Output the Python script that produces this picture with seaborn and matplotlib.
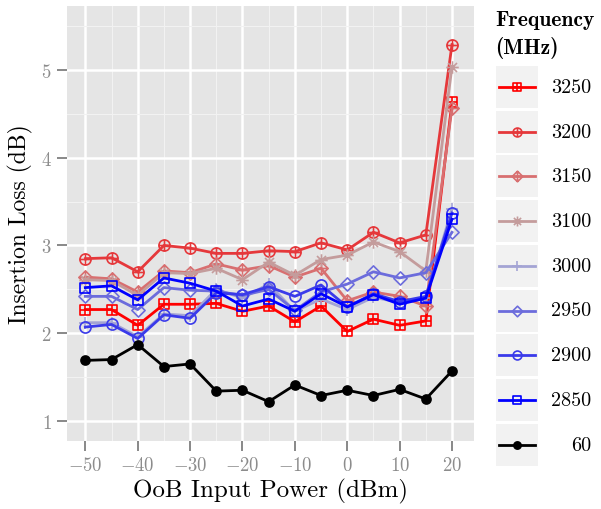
import numpy as np
import pandas as pd
import seaborn as sns
import matplotlib.pyplot as plt
from matplotlib.path import Path
from matplotlib.patches import Rectangle

# Data
power = [-50, -45, -40, -35, -30, -25, -20, -15, -10, -5, 0, 5, 10, 15, 20]
freqs = ['3250', '3200', '3150', '3100', '3000', '2950', '2900', '2850', '60']

loss_3250 = [2.27, 2.27, 2.09, 2.33, 2.33, 2.34, 2.25, 2.31, 2.13, 2.31, 2.02, 2.16, 2.09, 2.14, 4.63]
loss_3200 = [2.85, 2.86, 2.70, 3.00, 2.97, 2.91, 2.91, 2.94, 2.93, 3.03, 2.95, 3.15, 3.03, 3.12, 5.29]
loss_3150 = [2.64, 2.62, 2.47, 2.71, 2.69, 2.79, 2.72, 2.77, 2.64, 2.74, 2.37, 2.47, 2.42, 2.31, 4.57]
loss_3100 = [2.61, 2.60, 2.43, 2.69, 2.68, 2.74, 2.61, 2.81, 2.66, 2.84, 2.89, 3.04, 2.93, 2.71, 5.04]
loss_3000 = [2.12, 2.12, 1.96, 2.22, 2.20, 2.50, 2.40, 2.56, 2.25, 2.39, 2.27, 2.41, 2.35, 2.40, 3.42]
loss_2950 = [2.42, 2.42, 2.27, 2.52, 2.49, 2.48, 2.43, 2.50, 2.26, 2.47, 2.56, 2.70, 2.63, 2.69, 3.15]
loss_2900 = [2.07, 2.10, 1.94, 2.21, 2.17, 2.46, 2.44, 2.53, 2.42, 2.55, 2.30, 2.45, 2.36, 2.42, 3.37]
loss_2850 = [2.52, 2.54, 2.38, 2.63, 2.57, 2.48, 2.31, 2.39, 2.25, 2.45, 2.30, 2.44, 2.33, 2.40, 3.30]
loss_60 = [1.69, 1.70, 1.87, 1.62, 1.65, 1.34, 1.35, 1.22, 1.41, 1.29, 1.35, 1.29, 1.36, 1.25, 1.57]

colors = ['#ff0000', '#e5383b', '#d86f70', '#c49c9c', '#a4a4d4',
          '#6c6cdc', '#3a3aea', '#0000ff', '#000000']

series = [loss_3250, loss_3200, loss_3150, loss_3100, loss_3000,
          loss_2950, loss_2900, loss_2850, loss_60]

df = pd.concat([pd.DataFrame({'power': power, 'loss': s, 'freq': f})
                for f, s in zip(freqs, series)], ignore_index=True)

# ggplot-like marker shapes
M, L, C = Path.MOVETO, Path.LINETO, Path.CLOSEPOLY
plus = Path([(0, -1), (0, 1), (-1, 0), (1, 0)], [M, L, M, L])
square = Path([(-1, -1), (1, -1), (1, 1), (-1, 1), (-1, -1)], [M, L, L, L, C])
diamond = Path([(0, -1), (1, 0), (0, 1), (-1, 0), (0, -1)], [M, L, L, L, C])
circle = Path.unit_circle()
d = 0.72
cross = Path([(-d, -d), (d, d), (-d, d), (d, -d)], [M, L, M, L])
marker_list = [
    Path.make_compound_path(square, plus),
    Path.make_compound_path(circle, plus),
    Path.make_compound_path(diamond, plus),
    Path.make_compound_path(plus, cross),
    plus,
    diamond,
    circle,
    square,
    'o',
]
sizes = [7.5, 8, 9.5, 9, 9, 9.5, 8, 7.5, 6.5]
markers = dict(zip(freqs, marker_list))
palette = dict(zip(freqs, colors))

plt.rcParams['font.family'] = 'cmr10'
plt.rcParams['mathtext.fontset'] = 'cm'
plt.rcParams['axes.formatter.use_mathtext'] = True

fig = plt.figure(figsize=(6.01, 5.10), dpi=100)
ax = fig.add_axes([67 / 601, 1 - 441.7 / 510, (474 - 67) / 601, (441.7 - 6.7) / 510])

sns.lineplot(data=df, x='power', y='loss', hue='freq', style='freq',
             hue_order=freqs, style_order=freqs, palette=palette,
             markers=markers, dashes=False, errorbar=None, legend=False,
             linewidth=2, ax=ax)

for f, line, ms in zip(freqs, ax.lines, sizes):
    c = line.get_color()
    line.set_markeredgecolor(c)
    line.set_markerfacecolor(c if f == '60' else 'none')
    line.set_markersize(ms)
    line.set_markeredgewidth(1.2)

ax.set_facecolor('#e5e5e5')
ax.set_xlim(-53.5, 24.2)
ax.set_ylim(0.775, 5.733)
ax.set_xticks([-50, -40, -30, -20, -10, 0, 10, 20])
ax.set_xticks([-45, -35, -25, -15, -5, 5, 15], minor=True)
ax.set_yticks([1, 2, 3, 4, 5])
ax.set_yticks([1.5, 2.5, 3.5, 4.5, 5.5], minor=True)
ax.grid(which='major', color='white', linewidth=1.8)
ax.grid(which='minor', color='#f2f2f2', linewidth=0.8)
ax.set_axisbelow(True)
for sp in ax.spines.values():
    sp.set_visible(False)
ax.tick_params(which='major', length=7, width=1.3, color='#7f7f7f',
               labelcolor='#8c8c8c', labelsize=13.5, pad=4)
ax.tick_params(which='minor', length=0)
ax.set_xlabel('OoB Input Power (dBm)', fontsize=18, labelpad=3)
ax.set_ylabel('Insertion Loss (dB)', fontsize=17, labelpad=6)

# ggplot-style legend drawn in pixel coordinates
lax = fig.add_axes([0, 0, 1, 1])
lax.set_xlim(0, 601)
lax.set_ylim(510, 0)
lax.axis('off')
lax.text(495, 21, 'Frequency', fontfamily='cmb10', fontsize=15.5, va='center', ha='left')
lax.text(495, 48, '(MHz)', fontfamily='cmb10', fontsize=15.5, va='center', ha='left')
for i, (f, c, m, ms) in enumerate(zip(freqs, colors, marker_list, sizes)):
    yc = 88 + i * 44.7
    lax.add_patch(Rectangle((496, yc - 21), 42, 42, facecolor='#f2f2f2', edgecolor='none'))
    lax.plot([499, 535], [yc, yc], color=c, linewidth=2)
    lax.plot([517], [yc], marker=m, markersize=ms * 0.8, markeredgewidth=1.2,
             color=c, markerfacecolor=c if f == '60' else 'none')
    lax.text(591, yc, f, fontsize=14.5, ha='right', va='center')

fig.savefig('out.png', dpi=100)
